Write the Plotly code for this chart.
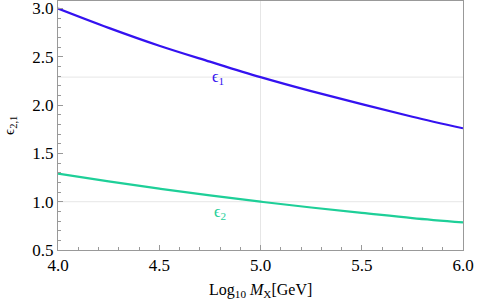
import plotly.graph_objects as go

log_mx = [4.0, 4.25, 4.5, 4.75, 5.0, 5.25, 5.5, 5.75, 6.0]
eps1 = [3.00, 2.80, 2.615, 2.45, 2.29, 2.145, 2.01, 1.88, 1.76]
eps2 = [1.29, 1.21, 1.135, 1.065, 1.0, 0.94, 0.885, 0.83, 0.785]

grid_x = [5.0]
grid_y = [1.0, 2.29]

x_range = [4.0, 6.0]
y_range = [0.5, 3.078]

blue = "#3412f0"
green = "#1ecf98"
frame = "#999999"
font = "Liberation Serif"

fig = go.Figure()
fig.add_trace(go.Scatter(x=log_mx, y=eps1, mode="lines", line=dict(color=blue, width=2.2, shape="spline"), showlegend=False))
fig.add_trace(go.Scatter(x=log_mx, y=eps2, mode="lines", line=dict(color=green, width=2.2, shape="spline"), showlegend=False))

shapes = []
for gx in grid_x:
    shapes.append(dict(type="line", xref="x", yref="y", x0=gx, x1=gx, y0=y_range[0], y1=y_range[1],
                       line=dict(color="#e6e6e6", width=1), layer="below"))
for gy in grid_y:
    shapes.append(dict(type="line", xref="x", yref="y", x0=x_range[0], x1=x_range[1], y0=gy, y1=gy,
                       line=dict(color="#e6e6e6", width=1), layer="below"))

fig.update_layout(
    width=477, height=304,
    margin=dict(l=58, r=14, t=1, b=54, autoexpand=False),
    paper_bgcolor="white", plot_bgcolor="white",
    font=dict(family=font, color="black", size=18),
    shapes=shapes,
    annotations=[
        dict(x=4.79, y=2.29, xref="x", yref="y", text="ϵ<sub>1</sub>", showarrow=False,
             font=dict(family=font, size=16, color=blue)),
        dict(x=4.80, y=0.89, xref="x", yref="y", text="ϵ<sub>2</sub>", showarrow=False,
             font=dict(family=font, size=16, color=green)),
        dict(x=0.5, y=-0.115, xref="paper", yref="paper", yanchor="top", showarrow=False,
             text="Log<sub>10</sub> <i>M</i><sub>X</sub>[GeV]", font=dict(family=font, size=16)),
        dict(x=-0.12, y=0.5, xref="paper", yref="paper", xanchor="center", showarrow=False, textangle=-90,
             text="ϵ<sub>2,1</sub>", font=dict(family=font, size=15)),
    ],
)
fig.update_xaxes(range=x_range, dtick=0.5, tick0=4.0, tickformat=".1f", automargin=False,
                 ticklabeloverflow="allow",
                 showgrid=False, zeroline=False,
                 showline=True, linecolor=frame, linewidth=1, mirror=True,
                 ticks="inside", ticklen=5, tickcolor=frame,
                 minor=dict(dtick=0.1, ticks="inside", ticklen=3, tickcolor=frame, showgrid=False),
                 tickfont=dict(family=font, size=17))
fig.update_yaxes(range=y_range, dtick=0.5, tick0=0.5, tickformat=".1f", automargin=False,
                 ticklabeloverflow="allow",
                 showgrid=False, zeroline=False,
                 showline=True, linecolor=frame, linewidth=1, mirror=True,
                 ticks="inside", ticklen=5, tickcolor=frame,
                 minor=dict(dtick=0.1, ticks="inside", ticklen=3, tickcolor=frame, showgrid=False),
                 tickfont=dict(family=font, size=17))

fig.write_html("out.html", config={"displayModeBar": False},
               post_script="document.body.style.margin='0';document.body.style.overflow='hidden';")
